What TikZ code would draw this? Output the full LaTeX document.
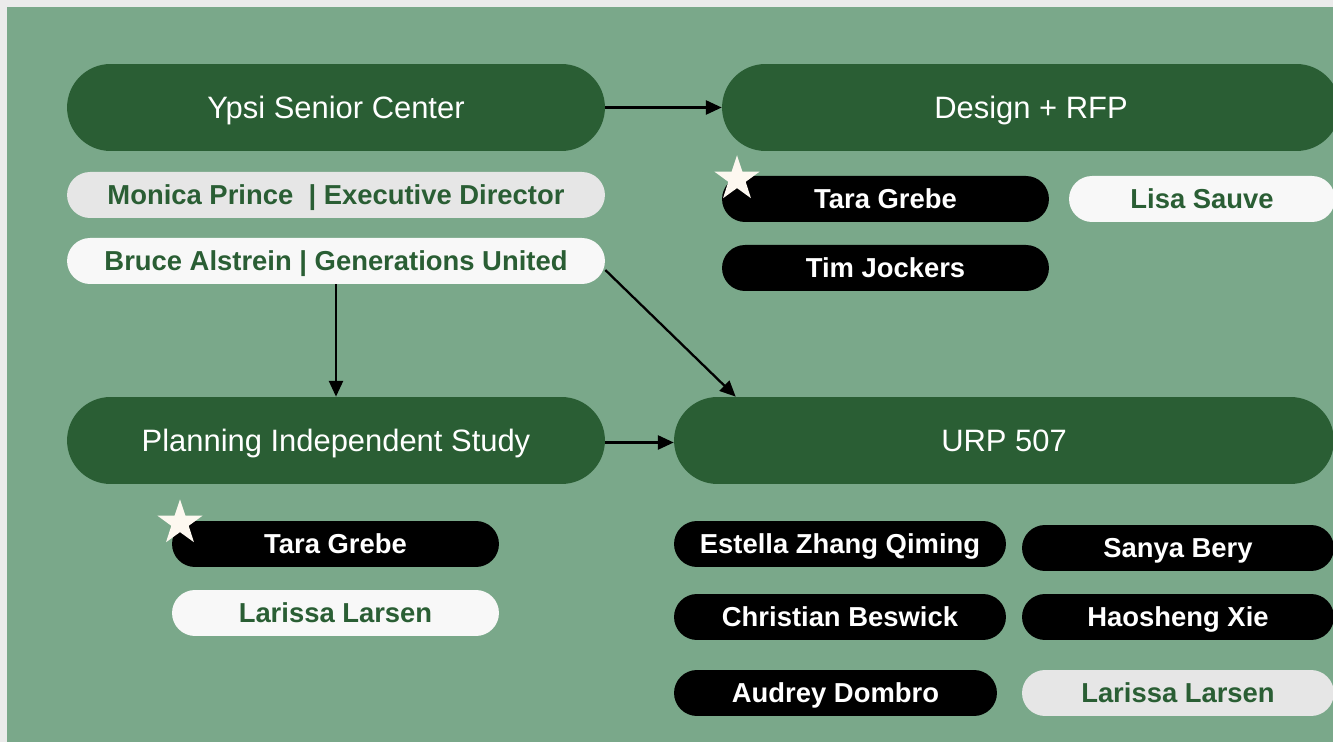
\documentclass[tikz,border=0pt]{standalone}
\usepackage{fontspec}
\setmainfont{Liberation Sans}
\usetikzlibrary{arrows.meta,shapes.geometric}

\definecolor{bgfrm}{HTML}{EBEBEB}
\definecolor{bggreen}{HTML}{7AA88A}
\definecolor{darkgreen}{HTML}{2A5E34}
\definecolor{pillwhite}{HTML}{F8F8F8}
\definecolor{pillgray}{HTML}{E6E6E6}
\definecolor{starcream}{HTML}{FDF8F0}

\begin{document}
\begin{tikzpicture}[x=0.02cm,y=-0.02cm,
  head/.style={fill=darkgreen,text=white,rounded corners=0.87cm,minimum height=1.74cm,
    inner sep=0pt,text height=12.6pt,text depth=0pt,font=\fontsize{17.6}{20}\selectfont},
  pill/.style={rounded corners=0.46cm,minimum height=0.92cm,inner sep=0pt,
    text height=11.2pt,text depth=0pt,font=\fontsize{15.6}{18}\selectfont\bfseries},
  blk/.style={pill,fill=black,text=white},
  wht/.style={pill,fill=pillwhite,text=darkgreen},
  gry/.style={pill,fill=pillgray,text=darkgreen},
  link/.style={-{Triangle[length=9pt,width=8pt]},line width=1.3pt,black},
  starmark/.style={star,star points=5,star point ratio=2.6,fill=starcream,minimum size=0.95cm,inner sep=0pt}]
  \useasboundingbox (0,0) rectangle (1333,742);
  \fill[bgfrm] (0,0) rectangle (1333,742);
  \fill[bggreen] (7,7) rectangle (1333,742);

  % main boxes
  \node[head,minimum width=10.76cm] (ypsi) at (336,107.5) {Ypsi Senior Center};
  \node[head,minimum width=12.36cm] (design) at (1031,107.5) {Design + RFP};
  \node[head,minimum width=10.76cm] (planning) at (336,440.5) {Planning Independent Study};
  \node[head,minimum width=13.2cm] (urp) at (1004,440.5) {URP 507};

  % people
  \node[gry,minimum width=10.76cm] (monica) at (336,195) {Monica Prince~~| Executive Director};
  \node[wht,minimum width=10.76cm] (bruce) at (336,261) {Bruce Alstrein | Generations United};

  \node[blk,minimum width=6.54cm] (taraD) at (885.5,199) {Tara Grebe};
  \node[wht,minimum width=5.32cm] (lisa) at (1202,199) {Lisa Sauve};
  \node[blk,minimum width=6.54cm] (tim) at (885.5,268) {Tim Jockers};

  \node[blk,minimum width=6.54cm] (taraP) at (335.5,544) {Tara Grebe};
  \node[wht,minimum width=6.54cm] (larissaP) at (335.5,613) {Larissa Larsen};

  \foreach \n/\px/\py/\w/\st/\txt in {
      estella/840/544/6.64/blk/Estella Zhang Qiming,
      sanya/1178/548/6.24/blk/Sanya Bery,
      christian/840/617/6.64/blk/Christian Beswick,
      haosheng/1178/617/6.24/blk/Haosheng Xie,
      audrey/835.5/693/6.46/blk/Audrey Dombro,
      larissaU/1178/693/6.24/gry/Larissa Larsen} {
    \node[\st,minimum width=\w cm] (\n) at (\px,\py) {\txt};
  }

  % stars
  \node[starmark] (starD) at (737,179) {};
  \node[starmark] (starP) at (180,523) {};

  % arrows
  \draw[link] (ypsi.east) -- (design.west);
  \draw[link] (bruce.south) -- (planning.north);
  \draw[link] ([yshift=-0.18cm]bruce.east) -- ([xshift=1.24cm]urp.north west);
  \draw[link] ([yshift=-0.04cm]planning.east) -- ([yshift=-0.04cm]urp.west);
\end{tikzpicture}
\end{document}
